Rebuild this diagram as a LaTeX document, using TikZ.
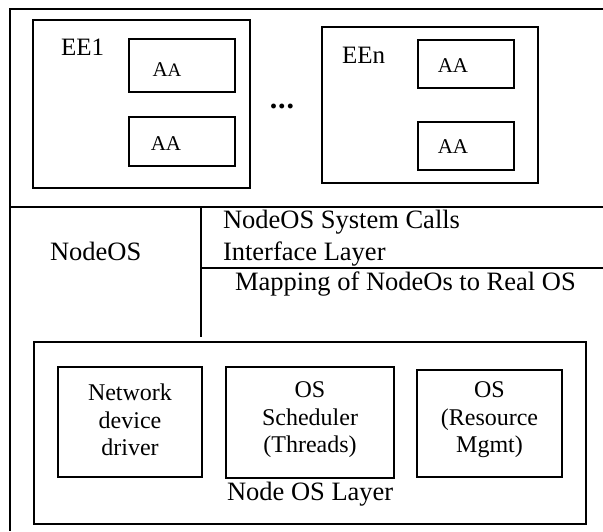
\documentclass[tikz,border=0pt]{standalone}
\usepackage{fontspec}
\setmainfont{Liberation Serif}
\begin{document}
\begin{tikzpicture}[x=1pt,y=-1pt,
  frameline/.style={line width=2pt},
  thinline/.style={line width=1.5pt},
  box/.style={draw, line width=1.9pt, inner sep=0pt, outer sep=0pt},
  lbl/.style={inner sep=0pt, outer sep=0pt, font=\fontsize{26.5}{31}\selectfont},
  eelbl/.style={inner sep=0pt, outer sep=0pt, font=\fontsize{25}{30}\selectfont},
  aalbl/.style={inner sep=0pt, outer sep=0pt, font=\fontsize{21}{25}\selectfont},
  boxtxt/.style={inner sep=0pt, outer sep=0pt, align=center, font=\fontsize{24}{27.5}\selectfont}]
\useasboundingbox (0,0) rectangle (603,531);
% outer frame
\coordinate (tr) at (603,9);
\coordinate (tl) at (10,9);
\coordinate (bl) at (10,531);
\coordinate (sl) at (10,207);
\coordinate (sr) at (603,207);
\coordinate (vt) at (201,207);
\coordinate (vb) at (201,337);
\coordinate (ml) at (201,268);
\coordinate (mr) at (603,268);
\draw[frameline] (tr) -- (tl) -- (bl);
\draw[frameline] (sl) -- (sr);
\draw[frameline] (vt) -- (vb);
\draw[thinline] (ml) -- (mr);
% EE1
\node[box, minimum width=217pt, minimum height=168pt] (ee1) at (141.5,104) {};
\node[box, minimum width=106pt, minimum height=53pt] (aa11) at (182,65.5) {};
\node[box, minimum width=106pt, minimum height=49pt] (aa12) at (182,141.5) {};
\node[eelbl, anchor=base west] (ee1t) at (61,55) {EE1};
\node[aalbl, anchor=base] (aa11t) at (167,76) {A{\fontsize{19}{22}\selectfont A}};
\node[aalbl, anchor=base] (aa12t) at (166,150) {AA};
% dots
\node[inner sep=0pt, outer sep=0pt, anchor=base, font=\fontsize{30}{34}\selectfont\bfseries] (dots) at (282,108) {.\kern1pt.\kern1pt.};
% EEn
\node[box, minimum width=216pt, minimum height=156pt] (een) at (430,105) {};
\node[box, minimum width=96pt, minimum height=48pt] (aan1) at (466,64) {};
\node[box, minimum width=96pt, minimum height=48pt] (aan2) at (466,146) {};
\node[eelbl, anchor=base west] (eent) at (342,63) {EEn};
\node[aalbl, anchor=base] (aan1t) at (453,72) {AA};
\node[aalbl, anchor=base] (aan2t) at (453,153) {AA};
% NodeOS texts
\node[lbl, anchor=base west] (nodeos) at (50,260) {NodeOS};
\node[lbl, anchor=base west] (sys1) at (223,228) {NodeOS System Calls};
\node[lbl, anchor=base west] (sys2) at (223,260) {Interface Layer};
\node[lbl, anchor=base west] (map) at (235,290) {Mapping of NodeOs to Real OS};
% Node OS layer
\node[box, minimum width=552pt, minimum height=182pt] (layer) at (310,433) {};
\node[box, minimum width=144pt, minimum height=110pt] (nd) at (130,422) {};
\node[box, minimum width=168pt, minimum height=111pt] (sched) at (310,422.5) {};
\node[box, minimum width=145pt, minimum height=107pt] (res) at (489.5,423.5) {};
\node[boxtxt] (ndt) at (130,420) {Network\\device\\driver};
\node[boxtxt] (schedt) at (310,420) {OS\\Scheduler\\(Threads)};
\node[boxtxt] (rest) at (489.5,420) {OS\\(Resource\\Mgmt)};
\node[lbl, anchor=base west] (layert) at (227,500) {Node OS Layer};
\end{tikzpicture}
\end{document}
